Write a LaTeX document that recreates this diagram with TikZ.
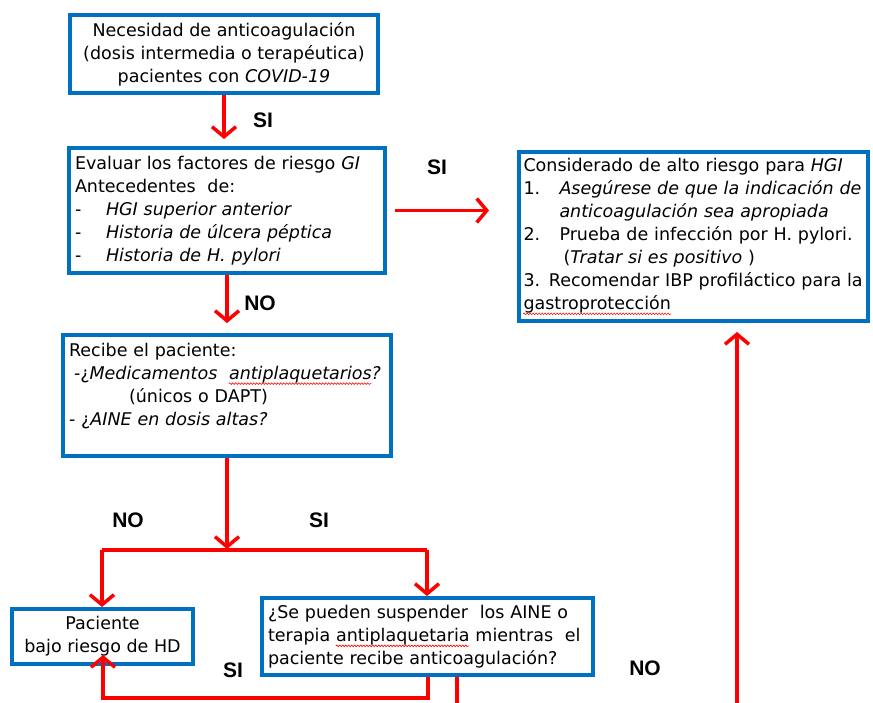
\documentclass[tikz,border=0pt]{standalone}
\usepackage{fontspec}
\setmainfont{DejaVu Sans}
\newfontfamily\labfont{Liberation Sans}
\usetikzlibrary{arrows.meta,decorations.pathmorphing}
\definecolor{boxblue}{RGB}{0,112,192}
\definecolor{arrred}{RGB}{255,0,0}
\newsavebox\wavebox
\newcommand\redwave[1]{\sbox\wavebox{#1}\usebox\wavebox\llap{\tikz[x=1pt,y=1pt,baseline=0pt]\draw[arrred,line width=0.6pt,decorate,decoration={snake,amplitude=0.8pt,segment length=3pt}] (0,-4.5) -- (\wd\wavebox,-4.5);}}
\newcommand\dashitem[1]{\makebox[31pt][l]{-}#1}
\begin{document}
\begin{tikzpicture}[x=1pt,y=-1pt,
  box/.style={draw=boxblue, line width=4pt, rectangle, inner xsep=6pt, inner ysep=2pt,
    font=\fontsize{17.5}{23}\selectfont},
  arr/.style={draw=arrred, line width=3.5pt, -{Straight Barb[length=10pt,width=24pt]}},
  redline/.style={draw=arrred, line width=3.5pt},
  lab/.style={font=\labfont\bfseries\fontsize{21}{24}\selectfont, inner sep=0pt}]
\fill[white] (0,0) rectangle (873,702);
\useasboundingbox (0,0) rectangle (873,702);

% boxes
\node[box, minimum width=308pt, minimum height=78pt, align=center] (b1) at (224,54)
  {Necesidad de anticoagulación\\(dosis intermedia o terapéutica)\\pacientes con \textit{COVID-19}};
\node[box, minimum width=316pt, minimum height=125pt, text width=304pt, align=left] (b2) at (227,210.5)
  {Evaluar los factores de riesgo \textit{GI}\\
   Antecedentes~ de:\\
   \dashitem{\textit{HGI superior anterior}}\\
   \dashitem{\textit{Historia de úlcera péptica}}\\
   \dashitem{\textit{Historia de H. pylori}}};
\node[box, minimum width=349pt, minimum height=169pt, text width=340pt, inner xsep=4pt, align=left] (b3) at (693.5,236.5)
  {Considerado de alto riesgo para \textit{HGI}\\
   \makebox[36pt][l]{1.}\textit{Asegúrese de que la indicación de}\\
   \hspace*{36pt}\textit{anticoagulación sea apropiada}\\
   \makebox[36pt][l]{2.}Prueba de infección por H. pylori.\\
   \hspace*{40pt}(\textit{Tratar si es positivo} )\\
   3. Recomendar IBP profiláctico para la\\
   \redwave{gastroprotección}};
\node[box, minimum width=328pt, minimum height=121pt, text width=316pt, align=left] (b4) at (227,395.5)
  {Recibe el paciente:\\
   \hspace*{5pt}-¿\textit{Medicamentos~ \redwave{\textit{antiplaquetarios}}?}\\
   \hspace*{60pt}(únicos o DAPT)\\
   - ¿\textit{AINE en dosis altas?}\\
   \mbox{}};
\node[box, minimum width=181pt, minimum height=55pt, align=center] (b5) at (102.5,636.5)
  {Paciente\\bajo riesgo de HD};
\node[box, minimum width=331pt, minimum height=77pt, text width=319pt, align=left] (b6) at (427.5,636.5)
  {¿Se pueden suspender~ los AINE o\\
   terapia \redwave{antiplaquetaria} mientras~ el\\
   paciente recibe anticoagulación?};

% coordinates for connector ends
\coordinate (jl) at (102,550);
\coordinate (jr) at (427,550);
\coordinate (rb) at (428,698);
\coordinate (b5tip) at (103,655);
\coordinate (nob) at (457,705);
\coordinate (lb) at (737,705);

% connectors
\draw[arr, shorten >=7pt] (b1.south) -- (b1.south |- b2.north);
\draw[arr, shorten <=8pt, shorten >=28pt] (b2.east) -- (b2.east -| b3.west);
\draw[arr, shorten >=10pt] (b2.south) -- (b2.south |- b4.north);
\draw[arr, shorten >=1pt] (b4.south) -- (b4.south |- jl);
\draw[redline] (jl) -- (jr);
\draw[arr] (jl) -- (jl |- b5.north);
\draw[arr] (jr) -- (jr |- b6.north);
\draw[arr] (rb |- b6.south) -- (rb) -| (b5tip);
\draw[redline] (nob |- b6.south) -- (nob);
\draw[arr, shorten >=9pt] (lb) -- (lb |- b3.south);

% labels
\node[lab] (l1) at (263,120) {SI};
\node[lab] (l2) at (437,167) {SI};
\node[lab] (l3) at (260,303) {NO};
\node[lab] (l4) at (128,520) {NO};
\node[lab] (l5) at (319,520) {SI};
\node[lab] (l6) at (233,670) {SI};
\node[lab] (l7) at (645,668) {NO};
\end{tikzpicture}
\end{document}
